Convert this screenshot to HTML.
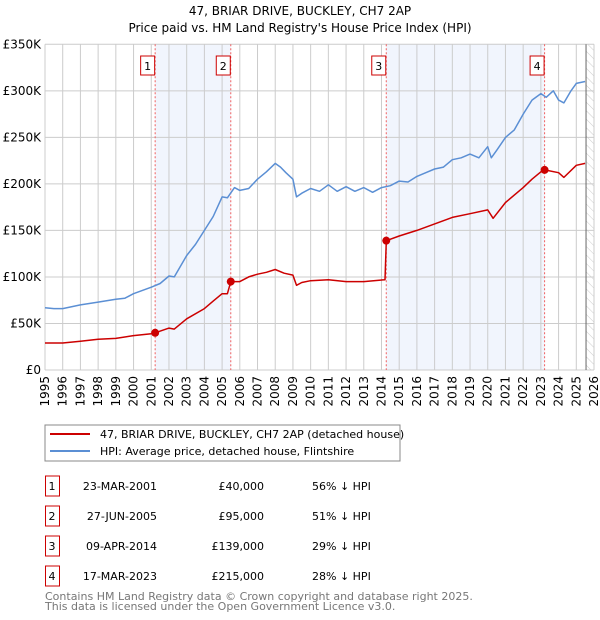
<!DOCTYPE html>
<html><head><meta charset="utf-8"><style>
body{margin:0;background:#fff;font-family:"Liberation Sans","DejaVu Sans",sans-serif;}
#wrap{position:relative;width:600px;height:620px;overflow:hidden}
svg text{font-family:"DejaVu Sans","Liberation Sans",sans-serif}
</style></head><body><div id="wrap">
<svg id="svg" width="600" height="620" xmlns="http://www.w3.org/2000/svg">
<text x="300" y="15" text-anchor="middle" font-size="12">47, BRIAR DRIVE, BUCKLEY, CH7 2AP</text>
<text x="300" y="32" text-anchor="middle" font-size="12">Price paid vs. HM Land Registry's House Price Index (HPI)</text>
<g id="g"></g>
<rect x="45" y="425" width="355" height="36" fill="#fff" stroke="#888"/>
<line x1="50" y1="434" x2="90" y2="434" stroke="#cc0000" stroke-width="2"/>
<text x="100" y="438" font-size="11">47, BRIAR DRIVE, BUCKLEY, CH7 2AP (detached house)</text>
<line x1="50" y1="451" x2="90" y2="451" stroke="#5b8fd4" stroke-width="2"/>
<text x="100" y="455" font-size="11">HPI: Average price, detached house, Flintshire</text>
<g id="tbl" font-size="11"></g>
<text x="45" y="600" font-size="11" fill="#777">Contains HM Land Registry data © Crown copyright and database right 2025.</text>
<text x="45" y="610" font-size="11" fill="#777">This data is licensed under the Open Government Licence v3.0.</text>
</svg></div>
<script>
const hpiYears=[1995,1995.5,1996,1997,1998,1999,1999.5,2000,2001,2001.5,2002,2002.3,2003,2003.5,2004,2004.5,2005,2005.3,2005.7,2006,2006.5,2007,2007.5,2008,2008.3,2008.6,2009,2009.2,2009.5,2010,2010.5,2011,2011.5,2012,2012.5,2013,2013.5,2014,2014.5,2015,2015.5,2016,2016.5,2017,2017.5,2018,2018.5,2019,2019.5,2020,2020.2,2020.5,2021,2021.5,2022,2022.5,2023,2023.3,2023.7,2024,2024.3,2024.7,2025,2025.5];
const hpiValues=[67,66,66,70,73,76,77,82,89,93,101,100,123,135,150,165,186,185,196,193,195,205,213,222,218,212,205,186,190,195,192,199,192,197,192,196,191,196,198,203,202,208,212,216,218,226,228,232,228,240,228,236,250,258,275,290,297,293,300,290,287,300,308,310];
const ppYears=[1995,1996,1997,1998,1999,2000,2001,2001.22,2002,2002.3,2003,2004,2004.5,2005,2005.3,2005.49,2006,2006.5,2007,2007.5,2008,2008.5,2009,2009.2,2009.5,2010,2011,2012,2013,2014.2,2014.27,2015,2016,2017,2018,2019,2020,2020.3,2021,2022,2022.5,2023,2023.21,2024,2024.3,2025,2025.5];
const ppValues=[29,29,31,33,34,37,39,40,45,44,55,66,74,82,82,95,95,100,103,105,108,104,102,91,94,96,97,95,95,97,139,144,150,157,164,168,172,163,180,196,205,213,215,212,207,220,222];
const saleLabels=["1","2","3","4"];
const saleYears=[2001.22,2005.49,2014.27,2023.21];
const salePrices=[40000,95000,139000,215000];
const saleDates=["23-MAR-2001","27-JUN-2005","09-APR-2014","17-MAR-2023"];
const salePriceText=["£40,000","£95,000","£139,000","£215,000"];
const saleHpiText=["56% ↓ HPI","51% ↓ HPI","29% ↓ HPI","28% ↓ HPI"];
const yTicks=[0,50,100,150,200,250,300,350];
const yTickLabels=["£0","£50K","£100K","£150K","£200K","£250K","£300K","£350K"];
const xTicks=[1995,1996,1997,1998,1999,2000,2001,2002,2003,2004,2005,2006,2007,2008,2009,2010,2011,2012,2013,2014,2015,2016,2017,2018,2019,2020,2021,2022,2023,2024,2025,2026];

const X0=45,X1=594,Y0=370,Y1=44.3;
const xs=y=>X0+(y-1995)*(X1-X0)/31;
const ys=v=>Y0-v*(Y0-Y1)/350;
const NS="http://www.w3.org/2000/svg";
const g=document.getElementById('g');
function mk(t,a,p){const e=document.createElementNS(NS,t);for(const k in a)e.setAttribute(k,a[k]);(p||g).appendChild(e);return e;}
// shading
for(let i=0;i<4;i+=2){const r=mk('rect',{x:xs(saleYears[i]),y:Y1,width:xs(saleYears[i+1])-xs(saleYears[i]),height:Y0-Y1,fill:'#eef3fc',opacity:0.8});

}
// hatch
const defs=mk('defs',{});
const pat=mk('pattern',{id:'h',width:6,height:6,patternUnits:'userSpaceOnUse',patternTransform:'rotate(-45)'},defs);
mk('line',{x1:0,y1:0,x2:0,y2:6,stroke:'#ccc','stroke-width':1},pat);
const hr=mk('rect',{x:xs(2025.55),y:Y1,width:X1-xs(2025.55),height:Y0-Y1,fill:'url(#h)'});


// grid
yTicks.forEach((v,i)=>{const l=mk('line',{x1:X0,x2:X1,y1:ys(v),y2:ys(v),stroke:'#ccc'});


const t=mk('text',{x:X0-4,y:ys(v)+4,'text-anchor':'end','font-size':12});t.textContent=yTickLabels[i];

});
xTicks.forEach(y=>{const l=mk('line',{x1:xs(y),x2:xs(y),y1:Y1,y2:Y0,stroke:'#ccc'});


const t=mk('text',{x:0,y:0,'font-size':12,'text-anchor':'end',transform:`translate(${xs(y)+4},${Y0+6}) rotate(-90)`});t.textContent=y;

});
mk('line',{x1:xs(2025.55),x2:xs(2025.55),y1:Y1,y2:Y0,stroke:'#666'});
// sale vlines
saleYears.forEach((y,i)=>{const l=mk('line',{x1:xs(y),x2:xs(y),y1:Y1,y2:Y0,stroke:'#f06060','stroke-dasharray':'2,2'});


const b=mk('rect',{x:xs(y)-14.5,y:56,width:14,height:19,fill:'#fff',stroke:'#cc0000'});


const t=mk('text',{x:xs(y)-7.5,y:70,'text-anchor':'middle','font-size':11});t.textContent=saleLabels[i];

});
function line(xa,va,col,name){const d=xa.map((y,i)=>(i?'L':'M')+xs(y).toFixed(1)+','+ys(va[i]).toFixed(1)).join('');
const p=mk('path',{d,fill:'none',stroke:col,'stroke-width':1.5,'stroke-linejoin':'round'});

}
line(hpiYears,hpiValues,'#5b8fd4','hpi-line');
line(ppYears,ppValues,'#cc0000','property-line');
saleYears.forEach((y,i)=>{const c=mk('circle',{cx:xs(y),cy:ys(salePrices[i]/1000),r:4,fill:'#cc0000'});

});
// table
const tb=document.getElementById('tbl');
saleLabels.forEach((s,i)=>{const y=483+i*30;
const b=mk('rect',{x:45.5,y:y-7,width:14,height:20,fill:'#fff',stroke:'#cc0000'},tb);


const a=[[52,s,'middle'],[157,saleDates[i],'end'],[264,salePriceText[i],'end'],[312,saleHpiText[i],'start']];
a.forEach(([x,tx,an])=>{const t=mk('text',{x,y:y+7,'text-anchor':an},tb);t.textContent=tx;

});});
</script></body></html>
